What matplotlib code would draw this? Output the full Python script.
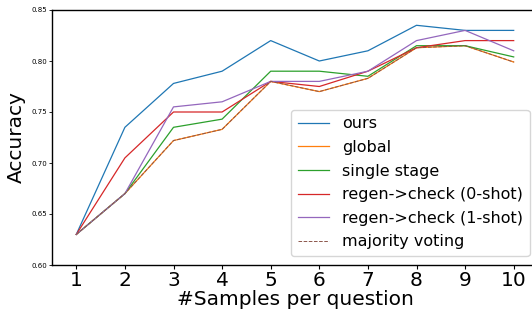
import matplotlib
matplotlib.use("Agg")
import matplotlib.pyplot as plt

samples = [1, 2, 3, 4, 5, 6, 7, 8, 9, 10]
ours = [0.630, 0.735, 0.778, 0.790, 0.820, 0.800, 0.810, 0.835, 0.830, 0.830]
global_ = [0.630, 0.670, 0.722, 0.733, 0.780, 0.770, 0.783, 0.813, 0.815, 0.799]
single_stage = [0.630, 0.670, 0.735, 0.743, 0.790, 0.790, 0.785, 0.815, 0.815, 0.804]
regen_0shot = [0.630, 0.705, 0.750, 0.750, 0.780, 0.775, 0.790, 0.813, 0.820, 0.820]
regen_1shot = [0.630, 0.670, 0.755, 0.760, 0.780, 0.780, 0.790, 0.820, 0.830, 0.810]
majority = [0.630, 0.670, 0.722, 0.733, 0.780, 0.770, 0.783, 0.813, 0.815, 0.799]
yticks = [0.60, 0.65, 0.70, 0.75, 0.80, 0.85]

fig = plt.figure(figsize=(5.32, 3.09), dpi=100)
ax = fig.add_axes([52/532, 44/309, 486/532, 255/309])

lw = 0.9
ax.plot(samples, ours, color='tab:blue', lw=lw, label='ours')
ax.plot(samples, global_, color='tab:orange', lw=lw, label='global')
ax.plot(samples, single_stage, color='tab:green', lw=lw, label='single stage')
ax.plot(samples, regen_0shot, color='tab:red', lw=lw, label='regen->check (0-shot)')
ax.plot(samples, regen_1shot, color='tab:purple', lw=lw, label='regen->check (1-shot)')
ax.plot(samples, majority, color='tab:brown', lw=0.7, ls='--', label='majority voting')

ax.set_xlim(0.5, 10.5)
ax.set_ylim(0.60, 0.85)
ax.set_xticks(samples)
ax.set_xticklabels([str(s) for s in samples], fontsize=14.5)
ax.set_yticks(yticks)
ax.set_yticklabels([f"{v:.2f}" for v in yticks], fontsize=5)
ax.tick_params(axis='y', length=2, width=0.6, pad=1.5)
ax.tick_params(axis='x', length=3, width=0.8, pad=1.5)
for s in ax.spines.values():
    s.set_linewidth(1.0)
ax.spines['right'].set_visible(False)
ax.set_xlabel('#Samples per question', fontsize=14.5, labelpad=0)
ax.set_ylabel('Accuracy', fontsize=14.5, labelpad=4)

ax.legend(loc='upper left', bbox_to_anchor=(0.492, 0.608), borderaxespad=0,
          fontsize=11.5, handlelength=2.0, labelspacing=0.54)

fig.savefig('out.png', dpi=100)
